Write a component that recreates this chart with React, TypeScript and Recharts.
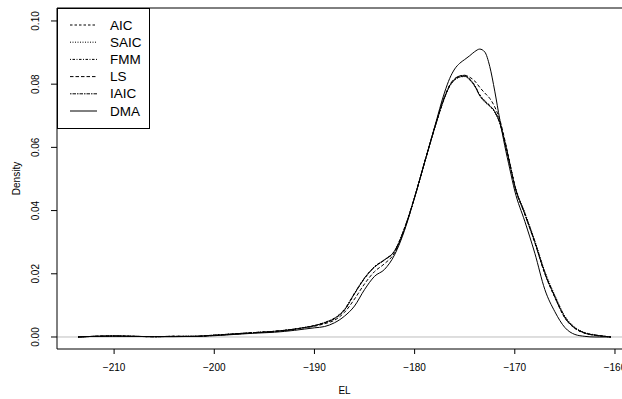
import { LineChart, Line, XAxis, YAxis, ReferenceLine, Legend } from "recharts";

// EL grid (x) and density estimates
const el = [
  -213.6, -212, -210, -208, -206, -204, -202, -200, -198, -196, -194, -192, -191, -190, -189, -188,
  -187, -186, -185, -184, -183, -182, -181, -180, -179, -178, -177, -176.5, -176, -175.5, -175,
  -174.5, -174, -173.5, -173, -172.5, -172, -171.5, -171, -170.5, -170, -169, -168, -167, -166,
  -165, -164, -163, -162, -161, -160.4,
];

const aic = [
  0, 0.0002, 0.0003, 0.0002, 0.0001, 0.0002, 0.0002, 0.0006, 0.001, 0.0014, 0.0018, 0.0025, 0.003, 0.0036, 0.0045, 0.0058,
  0.0085, 0.0137, 0.0186, 0.0222, 0.0244, 0.0272, 0.0345, 0.0442, 0.0553, 0.0662, 0.076, 0.0795, 0.0815, 0.0824, 0.0826,
  0.0815, 0.0795, 0.0765, 0.0746, 0.0732, 0.0713, 0.0678, 0.0618, 0.0548, 0.0478, 0.039, 0.03, 0.02, 0.0125,
  0.006, 0.0027, 0.0012, 0.0006, 0.0002, 0,
];
const saic = [
  0, 0.0002, 0.0003, 0.0002, 0.0001, 0.0002, 0.0002, 0.0006, 0.001, 0.0014, 0.0018, 0.0025, 0.003, 0.0036, 0.0045, 0.0059,
  0.0086, 0.0138, 0.0187, 0.0222, 0.0244, 0.0271, 0.0344, 0.0441, 0.0552, 0.066, 0.0757, 0.0793, 0.0813, 0.0822, 0.0824,
  0.0813, 0.0793, 0.0763, 0.0743, 0.073, 0.0711, 0.0676, 0.0616, 0.0548, 0.048, 0.0394, 0.0305, 0.0208, 0.0132,
  0.0066, 0.0031, 0.0014, 0.0007, 0.0002, 0,
];
const fmm = [
  0, 0.0002, 0.0003, 0.0002, 0.0001, 0.0002, 0.0002, 0.0005, 0.0009, 0.0014, 0.0018, 0.0025, 0.003, 0.0036, 0.0046, 0.006,
  0.0088, 0.0139, 0.0187, 0.0223, 0.0245, 0.0273, 0.0346, 0.0443, 0.0554, 0.0663, 0.0762, 0.0797, 0.0817, 0.0826, 0.0828,
  0.0817, 0.0797, 0.0767, 0.0748, 0.0733, 0.0714, 0.0679, 0.0619, 0.0549, 0.0477, 0.0388, 0.0298, 0.0202, 0.0127,
  0.0062, 0.0028, 0.0012, 0.0005, 0.0002, 0,
];
const ls = [
  0, 0.0002, 0.0003, 0.0002, 0.0001, 0.0002, 0.0002, 0.0005, 0.0009, 0.0013, 0.0017, 0.0024, 0.0029, 0.0034, 0.0042, 0.0053,
  0.0078, 0.012, 0.0168, 0.0207, 0.0232, 0.0266, 0.0342, 0.0442, 0.0553, 0.0662, 0.0758, 0.0797, 0.0817, 0.0826, 0.0828,
  0.0822, 0.081, 0.079, 0.0772, 0.0755, 0.0728, 0.0688, 0.0624, 0.0551, 0.0478, 0.0389, 0.0299, 0.0201, 0.0126,
  0.0061, 0.0028, 0.0012, 0.0006, 0.0002, 0,
];
const iaic = [
  0, 0.0002, 0.0003, 0.0002, 0.0001, 0.0002, 0.0002, 0.0006, 0.001, 0.0014, 0.0018, 0.0025, 0.003, 0.0036, 0.0045, 0.0058,
  0.0086, 0.0137, 0.0185, 0.0221, 0.0244, 0.0272, 0.0344, 0.0442, 0.0553, 0.0661, 0.0759, 0.0794, 0.0814, 0.0823, 0.0825,
  0.0814, 0.0794, 0.0764, 0.0745, 0.0731, 0.0712, 0.0677, 0.0617, 0.0548, 0.0479, 0.0391, 0.0302, 0.0204, 0.0129,
  0.0064, 0.0029, 0.0013, 0.0006, 0.0002, 0,
];
const dma = [
  0, 0.0002, 0.0003, 0.0002, 0.0001, 0.0001, 0.0002, 0.0004, 0.0008, 0.0012, 0.0015, 0.0021, 0.0025, 0.0029, 0.0033, 0.0045,
  0.0066, 0.0098, 0.015, 0.0192, 0.0214, 0.026, 0.0338, 0.0442, 0.0553, 0.0665, 0.0775, 0.0818, 0.0848, 0.0866, 0.0878,
  0.089, 0.0903, 0.0911, 0.0902, 0.0856, 0.0778, 0.0688, 0.0605, 0.0532, 0.0462, 0.0366, 0.0265, 0.015, 0.008,
  0.003, 0.0008, 0.0002, 0, 0, 0,
];

const series = [
  { key: "AIC", values: aic, dash: "2.5 2" },
  { key: "SAIC", values: saic, dash: "1 1.5" },
  { key: "FMM", values: fmm, dash: "1 1.5 2.5 1.5" },
  { key: "LS", values: ls, dash: "3.5 2" },
  { key: "IAIC", values: iaic, dash: "1.5 1 3.5 1" },
  { key: "DMA", values: dma, dash: undefined },
];

const xTicks = [-210, -200, -190, -180, -170, -160];
const yTicks = [0, 0.02, 0.04, 0.06, 0.08, 0.1];
const xDomain = [-215.7, -158.3];
const yDomain = [-0.0038, 0.1041];

const font = "'Liberation Sans', Arial, Helvetica, sans-serif";

const data = el.map((x, i) => {
  const row: Record<string, number> = { x };
  series.forEach((s) => (row[s.key] = s.values[i]));
  return row;
});

const fmtX = (v: number) => (v < 0 ? `\u2212${Math.abs(v)}` : `${v}`);

const XTick = ({ x, y, payload }: any) => (
  <text x={x} y={y} dy="0.71em" textAnchor="middle" fontSize={10} fontFamily={font} fill="#000">
    {fmtX(payload.value)}
  </text>
);

const YTick = ({ x, y, payload }: any) => (
  <text
    transform={`translate(${x - 4}, ${y}) rotate(-90)`}
    textAnchor="middle"
    fontSize={10}
    fontFamily={font}
    fill="#000"
  >
    {payload.value.toFixed(2)}
  </text>
);

const DensityLabel = ({ viewBox }: any) => (
  <text
    transform={`translate(20, ${viewBox.y + viewBox.height / 2}) rotate(-90)`}
    textAnchor="middle"
    fontSize={10}
    fontFamily={font}
    fill="#000"
  >
    Density
  </text>
);

const LegendBox = () => (
  <svg width={93} height={121} style={{ display: "block" }}>
    <rect x={0.5} y={0.5} width={92} height={120} fill="#fff" stroke="#000" />
    {series.map((s, i) => {
      const cy = 17 + i * 17.2;
      return (
        <g key={s.key}>
          <line x1={13} x2={40} y1={cy} y2={cy} stroke="#000" strokeWidth={1} strokeDasharray={s.dash} />
          <text x={53} y={cy} dominantBaseline="central" fontSize={13.5} fontFamily={font} fill="#000">
            {s.key}
          </text>
        </g>
      );
    })}
  </svg>
);

export default function App() {
  return (
    <div style={{ position: "absolute", left: 0, top: 0, width: 622, height: 399, overflow: "hidden", background: "#fff" }}>
      <LineChart width={640} height={399} data={data} margin={{ top: 8, right: 8, bottom: 5, left: 0 }}>
        <XAxis
          dataKey="x"
          type="number"
          domain={xDomain}
          ticks={xTicks}
          allowDataOverflow
          interval={0}
          height={45}
          tickSize={5}
          tickMargin={10}
          stroke="#000"
          tick={<XTick />}
          label={{ value: "EL", position: "insideBottom", offset: 0, fontSize: 10, fontFamily: font, fill: "#000" }}
        />
        <YAxis
          type="number"
          domain={yDomain}
          ticks={yTicks}
          allowDataOverflow
          interval={0}
          width={57}
          tickSize={6}
          tickMargin={8}
          stroke="#000"
          tick={<YTick />}
          label={DensityLabel}
        />
        <ReferenceLine y={0} stroke="#bebebe" strokeWidth={1} />
        <ReferenceLine y={yDomain[1]} stroke="#000" strokeWidth={1} />
        {series.map((s) => (
          <Line
            key={s.key}
            dataKey={s.key}
            type="monotone"
            stroke="#000"
            strokeWidth={1}
            strokeDasharray={s.dash}
            dot={false}
            isAnimationActive={false}
          />
        ))}
        <Legend
          layout="horizontal"
          align="center"
          verticalAlign="middle"
          content={<LegendBox />}
          wrapperStyle={{ position: "absolute", left: 57, top: 8, width: 93, height: 121 }}
        />
      </LineChart>
    </div>
  );
}
